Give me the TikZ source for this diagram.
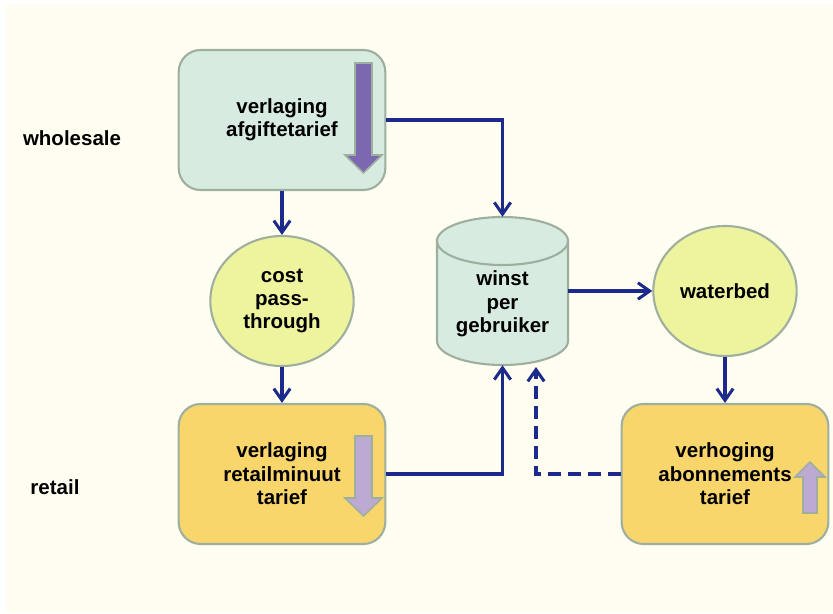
\documentclass[tikz,border=0pt]{standalone}
\usepackage{fontspec}
\setmainfont{Liberation Sans}
\usetikzlibrary{arrows.meta,positioning}
\definecolor{cream}{HTML}{FFFEF0}
\definecolor{mint}{HTML}{D8EBE0}
\definecolor{gold}{HTML}{F8D66C}
\definecolor{lime}{HTML}{EEF49E}
\definecolor{rim}{HTML}{9FAF9F}
\definecolor{navy}{HTML}{1C2A8C}
\definecolor{grape}{HTML}{7B68AE}
\definecolor{lilac}{HTML}{BDAAD3}
\tikzset{
  txt/.style={font=\bfseries\fontsize{17.5}{20}\selectfont,align=center},
  box/.style={txt,draw=rim,line width=1.8pt,rounded corners=0.66cm,
    minimum width=6.2cm,minimum height=4.2cm},
  blob/.style={txt,draw=rim,line width=1.8pt,ellipse,fill=lime,
    minimum width=4.3cm,minimum height=3.9cm,inner sep=0pt},
  link/.style={navy,line width=2.6pt,-{Straight Barb[length=10pt,width=14pt]}},
  blockarrow/.style={draw=rim,line width=1.4pt}
}
\usetikzlibrary{shapes.geometric}
\begin{document}
\begin{tikzpicture}[x=0.03cm,y=-0.03cm]
\useasboundingbox (0,0) rectangle (833,614);
\fill[cream] (6,5) rectangle (833,612);
% level labels
\node[txt] (wholesale) at (72,138) {wholesale};
\node[txt] (retail) at (55,487) {retail};
% boxes
\node[box,fill=mint] (wsbox) at (282,120) {verlaging\\afgiftetarief};
\node[box,fill=gold] (rtbox) at (282,474) {verlaging\\retailminuut\\tarief};
\node[box,fill=gold] (subbox) at (725,474) {verhoging\\abonnements\\tarief};
% block arrows inside the boxes
\draw[blockarrow,fill=grape] (355,63) -- (372,63) -- (372,155) -- (382,155)
  -- (363.5,173) -- (345,155) -- (355,155) -- cycle;
\draw[blockarrow,fill=lilac] (355,436) -- (372,436) -- (372,498) -- (382,498)
  -- (363.5,516) -- (345,498) -- (355,498) -- cycle;
\draw[blockarrow,fill=lilac] (803,513) -- (817,513) -- (817,477) -- (825,477)
  -- (810,462) -- (795,477) -- (803,477) -- cycle;
% ellipses
\node[blob] (pass) at (282,301) {cost\\pass-\\through};
\node[blob] (waterbed) at (725,291) {waterbed};
% cylinder
\node[minimum width=3.93cm,minimum height=4.44cm,inner sep=0pt] (gain) at (502.5,291) {};
\draw[draw=rim,line width=1.8pt,fill=mint] (437,241) -- (437,341)
  arc[start angle=180,end angle=360,x radius=1.965cm,y radius=0.72cm]
  -- (568,241)
  arc[start angle=0,end angle=180,x radius=1.965cm,y radius=0.72cm] -- cycle;
\draw[draw=rim,line width=1.8pt] (437,241)
  arc[start angle=180,end angle=360,x radius=1.965cm,y radius=0.72cm];
\node[txt] (gaintext) at (502.5,304) {winst\\per\\gebruiker};
% connectors
\draw[link] (wsbox.east) -| (gain.north);
\draw[link] (wsbox.south) -- (pass.north);
\draw[link] (pass.south) -- (rtbox.north);
\draw[link] (rtbox.east) -| (gain.south);
\draw[link] (gain.east) -- (waterbed.west);
\draw[link] (waterbed.south) -- (subbox.north);
\coordinate (back) at (536,367);
\draw[link,dash pattern=on 11pt off 6pt] (subbox.west) -| (back);
\end{tikzpicture}
\end{document}
